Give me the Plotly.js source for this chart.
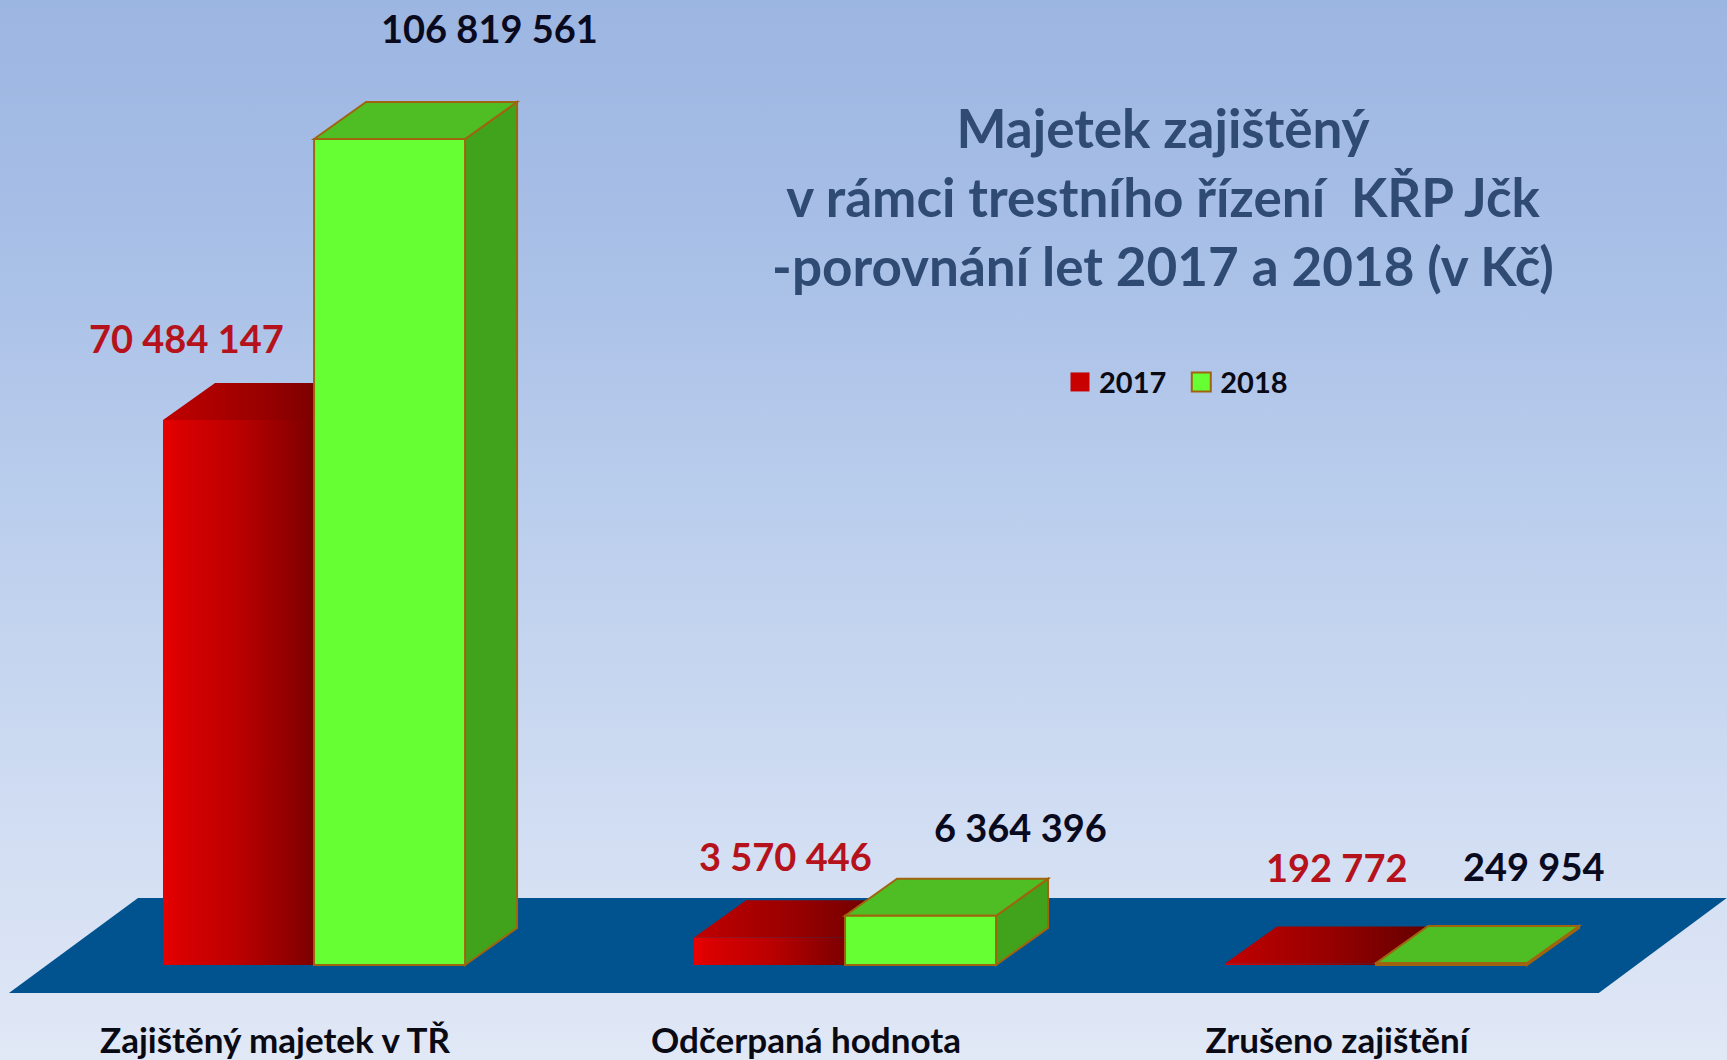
<!DOCTYPE html>
<html lang="cs">
<head>
<meta charset="utf-8">
<script src="https://cdn.plot.ly/plotly-3.0.1.min.js"></script>
<style>
html,body{margin:0;padding:0;width:1727px;height:1060px;overflow:hidden;
background:linear-gradient(180deg,#9cb6e2 0%,#a9c0e7 25%,#bccfed 50%,#cfdcf2 75%,#e1e8f6 100%);}
#chart{width:1727px;height:1060px;}
</style>
</head>
<body>
<div id="chart"></div>
<script>
const categories = ["Zajištěný majetek v TŘ", "Odčerpaná hodnota", "Zrušeno zajištění"];
const seriesNames = ["2017", "2018"];
const values2017 = [70484147, 3570446, 192772];
const values2018 = [106819561, 6364396, 249954];
const labels2017 = ["70 484 147", "3 570 446", "192 772"];
const labels2018 = ["106 819 561", "6 364 396", "249 954"];
const titleText = "Majetek zajištěný<br>v rámci trestního řízení  KŘP Jčk<br>-porovnání let 2017 a 2018 (v Kč)";

/* geometry of the pseudo-3D look, in axis units */
const tickPos = [0, 1, 2];
const groupShift = 0.0735;
const barWidth = 0.2844;
const depthX = 0.098;
const depthY = 4.8e6;
const xRange = [-0.5179, 2.7345];
const yRange = [-4.526e6, 124.8e6];
const floorFront = -3.62e6, floorBack = 8.66e6;
const floorX = [-0.501, -0.258, 2.734, 2.493];

const poly = pts => "M" + pts.map(p => p[0] + "," + p[1]).join(" L") + " Z";
const barX = tickPos.map(t => t + groupShift);
const edge = "#a0640f";
const shapes = [];
shapes.push({type:"path", layer:"below", xref:"x", yref:"y", fillcolor:"#00538f", line:{width:0},
  path:poly([[floorX[0],floorFront],[floorX[1],floorBack],[floorX[2],floorBack],[floorX[3],floorFront]])});
const redTopIdx = [];
barX.forEach((c,i) => {
  const l = c - barWidth, r = c, v = values2017[i];
  redTopIdx.push(shapes.length);
  shapes.push({type:"path", layer:"below", xref:"x", yref:"y", fillcolor:"#900000", line:{width:0},
    path:poly([[l,v],[l+depthX,v+depthY],[r+depthX,v+depthY],[r,v]])});
});
barX.forEach((c,i) => {
  const l = c, r = c + barWidth, v = values2018[i];
  shapes.push({type:"path", layer:"below", xref:"x", yref:"y", fillcolor:"#41a31c", line:{color:edge,width:2},
    path:poly([[r,0],[r+depthX,depthY],[r+depthX,v+depthY],[r,v]])});
  shapes.push({type:"path", layer:"below", xref:"x", yref:"y", fillcolor:"#4fbe24", line:{color:edge,width:2},
    path:poly([[l,v],[l+depthX,v+depthY],[r+depthX,v+depthY],[r,v]])});
});

/* label offsets from each bar's top centre, px */
const shift2017 = [[-52,82],[16,81],[36,97]];
const shift2018 = [[100,111],[100,89],[82,97]];
const lblFont = c => ({family:"Lato, Carlito, sans-serif", size:38, weight:700, color:c});
const annotations = [];
barX.forEach((c,i) => {
  annotations.push({x:c-barWidth/2, y:values2017[i], xref:"x", yref:"y", text:labels2017[i], showarrow:false,
    xanchor:"center", yanchor:"middle", xshift:shift2017[i][0], yshift:shift2017[i][1], font:lblFont("#b5121b")});
  annotations.push({x:c+barWidth/2, y:values2018[i], xref:"x", yref:"y", text:labels2018[i], showarrow:false,
    xanchor:"center", yanchor:"middle", xshift:shift2018[i][0], yshift:shift2018[i][1], font:lblFont("#0a0a1e")});
});

const traces = [
  {type:"bar", name:seriesNames[0], x:barX, y:values2017, width:barWidth,
   marker:{color:"#c80000", line:{width:0}}},
  {type:"bar", name:seriesNames[1], x:barX, y:values2018, width:barWidth,
   marker:{color:"#66ff33", line:{color:edge,width:2}}}
];

const layout = {
  width:1727, height:1060,
  margin:{l:0,r:0,t:0,b:60},
  paper_bgcolor:"rgba(0,0,0,0)", plot_bgcolor:"rgba(0,0,0,0)",
  barmode:"group", bargap:0.431, bargroupgap:0,
  title:{text:titleText, x:1163/1727, xanchor:"center", y:1-148/1060, yanchor:"top",
    font:{family:"Lato, Carlito, sans-serif", size:53, weight:700, color:"#2f4a73"}},
  xaxis:{type:"linear", range:xRange, tickmode:"array", tickvals:tickPos, ticktext:categories,
    showgrid:false, zeroline:false, showline:false, ticks:"outside", ticklen:10, tickcolor:"rgba(0,0,0,0)",
    tickfont:{family:"Lato, Carlito, sans-serif", size:35, weight:700, color:"#0a0a14"}},
  yaxis:{range:yRange, visible:false, showgrid:false, zeroline:false},
  showlegend:true,
  legend:{orientation:"h", x:1059/1727, y:1-378/1060, xanchor:"left", yanchor:"top",
    bgcolor:"rgba(0,0,0,0)", traceorder:"normal",
    font:{family:"Lato, Carlito, sans-serif", size:29, weight:700, color:"#0a0a14"}},
  shapes, annotations
};

Plotly.newPlot("chart", traces, layout, {displayModeBar:false, staticPlot:true}).then(gd => {
  const svg = gd.querySelector("svg.main-svg");
  const NS = "http://www.w3.org/2000/svg";
  const defs = document.createElementNS(NS,"defs");
  const grad = (id, stops) => {
    const g = document.createElementNS(NS,"linearGradient");
    g.setAttribute("id",id); g.setAttribute("x1","0"); g.setAttribute("x2","1"); g.setAttribute("y1","0"); g.setAttribute("y2","0");
    stops.forEach(s => { const e = document.createElementNS(NS,"stop"); e.setAttribute("offset",s[0]); e.setAttribute("stop-color",s[1]); g.appendChild(e); });
    defs.appendChild(g);
  };
  grad("redFront", [[0,"#e80000"],[0.12,"#d80000"],[0.5,"#bb0000"],[1,"#7c0000"]]);
  grad("redTop", [[0,"#c00000"],[0.5,"#980000"],[1,"#640000"]]);
  svg.insertBefore(defs, svg.firstChild);
  gd.querySelectorAll(".barlayer .trace:first-child .point path").forEach(p => p.style.fill = "url(#redFront)");
  redTopIdx.forEach(i => {
    gd.querySelectorAll('.shapelayer path[data-index="' + i + '"]').forEach(p => p.style.fill = "url(#redTop)");
  });
  gd.querySelectorAll(".legend .legendpoints path").forEach(p => {
    p.setAttribute("d","M9.5,9.5H-9.5V-9.5H9.5Z");
    p.setAttribute("transform","translate(21,0)");
  });
  const scroll = gd.querySelector(".legend .scrollbox");
  if (scroll) scroll.removeAttribute("clip-path");
  const items = gd.querySelectorAll(".legend .traces");
  if (items[1]) {
    const m = /translate\(([-\d.]+),\s*([-\d.]+)\)/.exec(items[1].getAttribute("transform"));
    if (m) items[1].setAttribute("transform","translate(" + (parseFloat(m[1]) + 9) + "," + m[2] + ")");
  }
});
</script>
</body>
</html>
